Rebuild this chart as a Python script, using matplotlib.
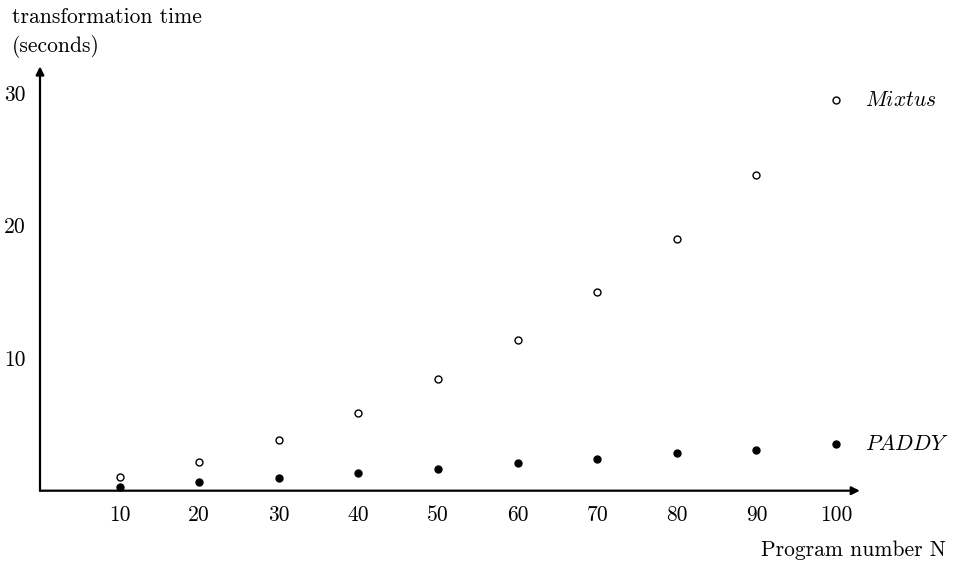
import matplotlib
matplotlib.use('Agg')
import matplotlib.pyplot as plt

plt.rcParams['font.family'] = 'cmr10'
plt.rcParams['mathtext.fontset'] = 'cm'
plt.rcParams['axes.formatter.use_mathtext'] = True

# data
program_n  = [10, 20, 30, 40, 50, 60, 70, 80, 90]
mixtus_t   = [1.05, 2.2, 3.8, 5.85, 8.4, 11.4, 15.0, 19.0, 23.8]
paddy_t    = [0.3, 0.68, 0.98, 1.36, 1.65, 2.1, 2.4, 2.87, 3.1]

x_ticks = [10, 20, 30, 40, 50, 60, 70, 80, 90, 100]
y_ticks = [10, 20, 30]

# key markers drawn at the right edge, next to the names
key_x     = [100, 100]
key_y     = [29.45, 3.5]
key_names = [r'$Mixtus$', r'$PADDY$']

fs = 15.5

W, H = 954, 563
fig = plt.figure(figsize=(W / 100, H / 100), dpi=100)

x0, y0 = 40, 490.7          # pixel of the origin
px_x, px_y = 7.96, 13.26    # pixels per unit
xmax, ymax = 106, 32.5
ax = fig.add_axes([x0 / W, (H - y0) / H, xmax * px_x / W, ymax * px_y / H])
ax.set_xlim(0, xmax)
ax.set_ylim(0, ymax)
for s in ax.spines.values():
    s.set_visible(False)

# arrowed axes
ax.annotate('', xy=(103.0, 0), xytext=(0, 0),
            arrowprops=dict(arrowstyle='-|>', lw=1.6, color='black',
                            mutation_scale=12, shrinkA=0, shrinkB=0),
            annotation_clip=False)
ax.annotate('', xy=(0, 32.0), xytext=(0, 0),
            arrowprops=dict(arrowstyle='-|>', lw=1.6, color='black',
                            mutation_scale=12, shrinkA=0, shrinkB=0),
            annotation_clip=False)

ax.plot(program_n, mixtus_t, 'o', ms=5, mfc='white', mec='black', mew=1.0, clip_on=False)
ax.plot(program_n, paddy_t, 'o', ms=5, mfc='black', mec='black', mew=1.0, clip_on=False)

ax.plot(key_x[0], key_y[0], 'o', ms=5, mfc='white', mec='black', mew=1.0, clip_on=False)
ax.plot(key_x[1], key_y[1], 'o', ms=5, mfc='black', mec='black', mew=1.0, clip_on=False)
for kx, ky, name in zip(key_x, key_y, key_names):
    ax.text(kx + 3.7, ky, name, fontsize=fs, va='center', ha='left')

ax.set_xticks(x_ticks)
ax.set_yticks(y_ticks)
ax.set_xticklabels([str(v) for v in x_ticks])
ax.set_yticklabels([str(v) for v in y_ticks])
ax.tick_params(axis='x', length=0, pad=11, labelsize=fs)
ax.tick_params(axis='y', length=0, pad=10, labelsize=fs)

fig.text(12 / W, 1 - 17 / H, 'transformation time', fontsize=fs, va='center', ha='left')
fig.text(12 / W, 1 - 46 / H, '(seconds)', fontsize=fs, va='center', ha='left')
fig.text(946 / W, 1 - 550 / H, 'Program number N', fontsize=fs, va='center', ha='right')

plt.savefig('out.png', dpi=100)
